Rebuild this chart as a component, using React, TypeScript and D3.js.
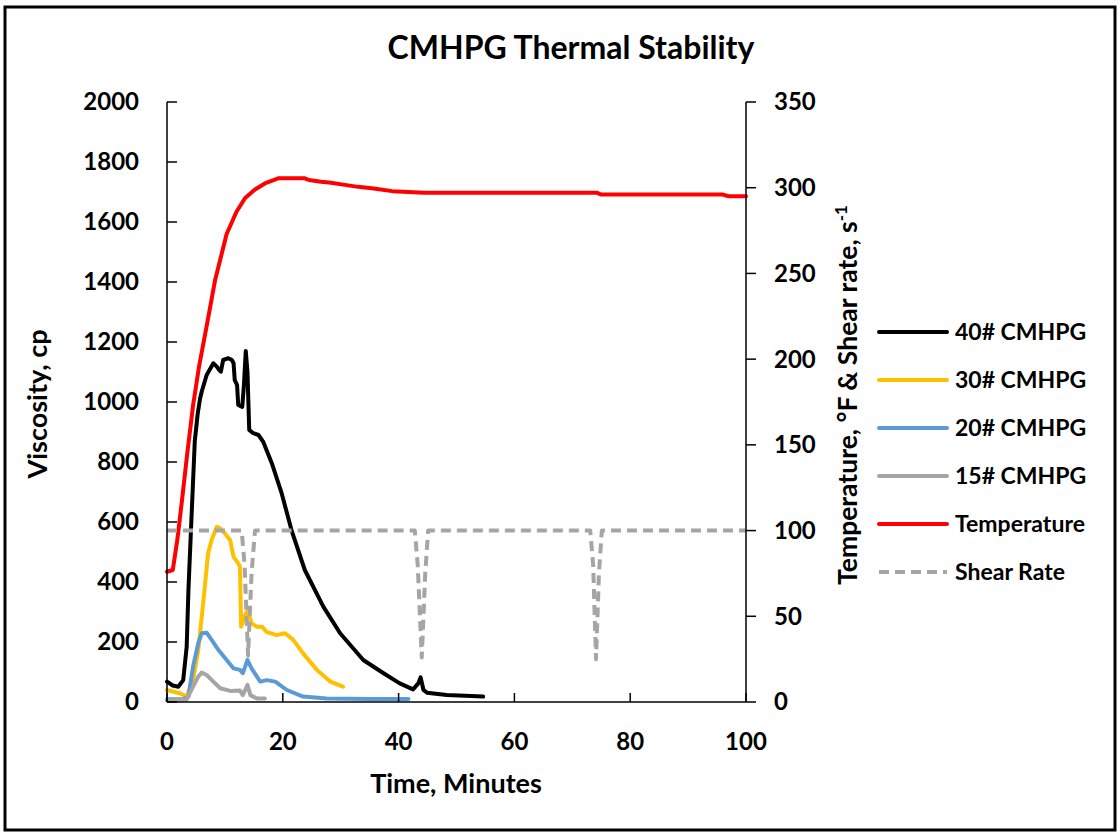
import React from "react";
import * as d3 from "d3";

const xTicks = [0, 20, 40, 60, 80, 100];
const yLeftTicks = [0, 200, 400, 600, 800, 1000, 1200, 1400, 1600, 1800, 2000];
const yRightTicks = [0, 50, 100, 150, 200, 250, 300, 350];

const visc40Time = [0, 1.0, 1.95, 2.8, 3.4, 3.7, 4.2, 4.8, 5.3, 5.7, 6.0, 6.85, 8.0, 8.6, 9.0, 9.3, 9.7, 10.6, 11.2, 11.5, 11.7, 12.1, 12.3, 13.0, 13.3, 13.6, 13.9, 14.2, 14.9, 15.8, 16.6, 18.1, 19.8, 21.5, 23.8, 27.0, 29.9, 33.9, 37.4, 40.2, 42.5, 43.4, 43.8, 44.3, 44.9, 48.3, 54.6];
const visc40 = [68, 55, 51, 73, 184, 373, 600, 870, 960, 1010, 1035, 1090, 1129, 1118, 1107, 1101, 1140, 1146, 1140, 1129, 1073, 1057, 990, 984, 1060, 1170, 1100, 907, 896, 890, 868, 796, 696, 573, 440, 318, 229, 140, 96, 62, 42, 62, 82, 40, 31, 23, 18];

const visc30Time = [0, 2.2, 3.4, 4.5, 5.4, 6.3, 7.1, 7.7, 8.6, 9.2, 10.0, 10.9, 11.5, 12.3, 12.6, 12.8, 13.5, 14.0, 14.6, 15.5, 16.4, 17.2, 18.9, 20.4, 21.8, 23.5, 25.9, 28.2, 30.4];
const visc30 = [40, 29, 18, 73, 173, 340, 496, 540, 584, 579, 562, 540, 484, 462, 451, 251, 290, 307, 262, 251, 251, 234, 223, 229, 207, 162, 107, 68, 51];

const visc20Time = [0, 2.8, 3.7, 4.5, 5.4, 6.0, 6.85, 7.7, 8.9, 10.3, 11.5, 12.6, 13.1, 13.9, 14.6, 16.1, 17.2, 18.7, 20.7, 23.5, 27.6, 35, 41.7];
const visc20 = [9, 9, 18, 118, 196, 229, 231, 207, 173, 140, 112, 107, 96, 140, 112, 68, 73, 68, 40, 18, 12, 10, 10];

const visc15Time = [0, 3.4, 4.5, 5.4, 6.0, 6.85, 8.0, 9.2, 10.9, 12.6, 13.1, 13.9, 14.4, 15.5, 16.9];
const visc15 = [5, 9, 51, 84, 98, 90, 68, 46, 37, 38, 23, 57, 23, 12, 12];

const tempTime = [0, 1.0, 1.8, 2.6, 3.5, 4.5, 5.5, 7.0, 8.3, 10.3, 12.0, 13.5, 15.2, 16.9, 19.2, 23.8, 24.5, 26.6, 28, 31, 33, 35.7, 38.9, 44.4, 74.3, 75, 96, 97, 100];
const tempF = [76, 77, 95, 118, 145, 173, 195, 222, 246, 273, 286, 294, 299, 302.5, 305.5, 305.5, 304.5, 303.5, 303, 301.5, 300.5, 299.5, 298, 297, 297, 296, 296, 295, 295];

const shearTime = [0, 12.9, 13.4, 14.0, 14.6, 15.2, 42.8, 43.3, 44.0, 44.6, 45.1, 73.1, 73.6, 74.1, 74.6, 75.1, 100];
const shearRate = [100, 100, 80, 27, 75, 100, 100, 80, 26, 75, 100, 100, 80, 25, 75, 100, 100];

const seriesNames = ["40# CMHPG", "30# CMHPG", "20# CMHPG", "15# CMHPG", "Temperature", "Shear Rate"];
const seriesColors = ["#000000", "#FFC000", "#5B9BD5", "#A5A5A5", "#FF0000", "#A5A5A5"];

const FONT = "Lato, 'Open Sans', sans-serif";

export default function App() {
  const W = 1120, H = 833;
  const x = d3.scaleLinear().domain([0, 100]).range([167, 746]);
  const yL = d3.scaleLinear().domain([0, 2000]).range([702, 102]);
  const yR = d3.scaleLinear().domain([0, 350]).range([702, 102]);

  const mk = (ts: number[], vs: number[], ys: d3.ScaleLinear<number, number>) =>
    d3.line<number>().x((_, i) => x(ts[i])).y((v) => ys(v))(vs) || "";

  const paths = [
    { d: mk(visc40Time, visc40, yL), c: seriesColors[0], dash: undefined },
    { d: mk(visc30Time, visc30, yL), c: seriesColors[1], dash: undefined },
    { d: mk(visc20Time, visc20, yL), c: seriesColors[2], dash: undefined },
    { d: mk(visc15Time, visc15, yL), c: seriesColors[3], dash: undefined },
    { d: mk(tempTime, tempF, yR), c: seriesColors[4], dash: undefined },
    { d: mk(shearTime, shearRate, yR), c: seriesColors[5], dash: "10 6" },
  ];

  const legendY0 = 332;
  const legendStep = 48;

  return (
    <svg width={W} height={H} style={{ position: "absolute", left: 0, top: 0, background: "#fff" }} fontFamily={FONT}>
      <rect x={0} y={0} width={W} height={H} fill="#fff" />
      <rect x={5} y={7} width={1110} height={823} fill="none" stroke="#000" strokeWidth={3} />
      <text x={571} y={59} textAnchor="middle" fontSize={32} fontWeight="bold">CMHPG Thermal Stability</text>

      {/* series */}
      {paths.map((p, i) => (
        <path key={i} d={p.d} fill="none" stroke={p.c} strokeWidth={4} strokeLinejoin="round" strokeLinecap={p.dash ? "butt" : "round"} strokeDasharray={p.dash} />
      ))}

      {/* left axis */}
      <line x1={167} x2={167} y1={102} y2={702} stroke="#000" strokeWidth={1.5} />
      {yLeftTicks.map((t) => (
        <g key={"l" + t}>
          <line x1={167} x2={177} y1={yL(t)} y2={yL(t)} stroke="#000" strokeWidth={1.5} />
          <text x={139} y={yL(t)} dy="0.35em" textAnchor="end" fontSize={24} fontWeight="bold">{t}</text>
        </g>
      ))}
      {/* right axis */}
      <line x1={746} x2={746} y1={102} y2={702} stroke="#000" strokeWidth={1.5} />
      {yRightTicks.map((t) => (
        <g key={"r" + t}>
          <line x1={746} x2={756} y1={yR(t)} y2={yR(t)} stroke="#000" strokeWidth={1.5} />
          <text x={774} y={yR(t)} dy="0.35em" textAnchor="start" fontSize={24} fontWeight="bold">{t}</text>
        </g>
      ))}
      {/* bottom axis */}
      <line x1={167} x2={746} y1={702} y2={702} stroke="#000" strokeWidth={1.5} />
      {xTicks.map((t) => (
        <g key={"b" + t}>
          <line x1={x(t)} x2={x(t)} y1={702} y2={693} stroke="#000" strokeWidth={1.5} />
          <text x={x(t)} y={742} dy="0.35em" textAnchor="middle" fontSize={24} fontWeight="bold">{t}</text>
        </g>
      ))}

      {/* axis titles */}
      <text x={456} y={784} dy="0.35em" textAnchor="middle" fontSize={27} fontWeight="bold">Time, Minutes</text>
      <text transform="translate(38,404) rotate(-90)" dy="0.35em" textAnchor="middle" fontSize={27} fontWeight="bold">Viscosity, cp</text>
      <text transform="translate(848,395) rotate(-90)" dy="0.35em" textAnchor="middle" fontSize={26.5} fontWeight="bold">
        Temperature, °F &amp; Shear rate, s<tspan dy="-0.6em" fontSize={17}>-1</tspan>
      </text>

      {/* legend */}
      {seriesNames.map((n, i) => (
        <g key={n}>
          <line x1={879} x2={947} y1={legendY0 + i * legendStep} y2={legendY0 + i * legendStep} stroke={seriesColors[i]} strokeWidth={4} strokeLinecap={i === 5 ? "butt" : "round"} strokeDasharray={i === 5 ? "10 6" : undefined} />
          <text x={955} y={legendY0 + i * legendStep} dy="0.35em" fontSize={23} fontWeight="bold">{n}</text>
        </g>
      ))}
    </svg>
  );
}
